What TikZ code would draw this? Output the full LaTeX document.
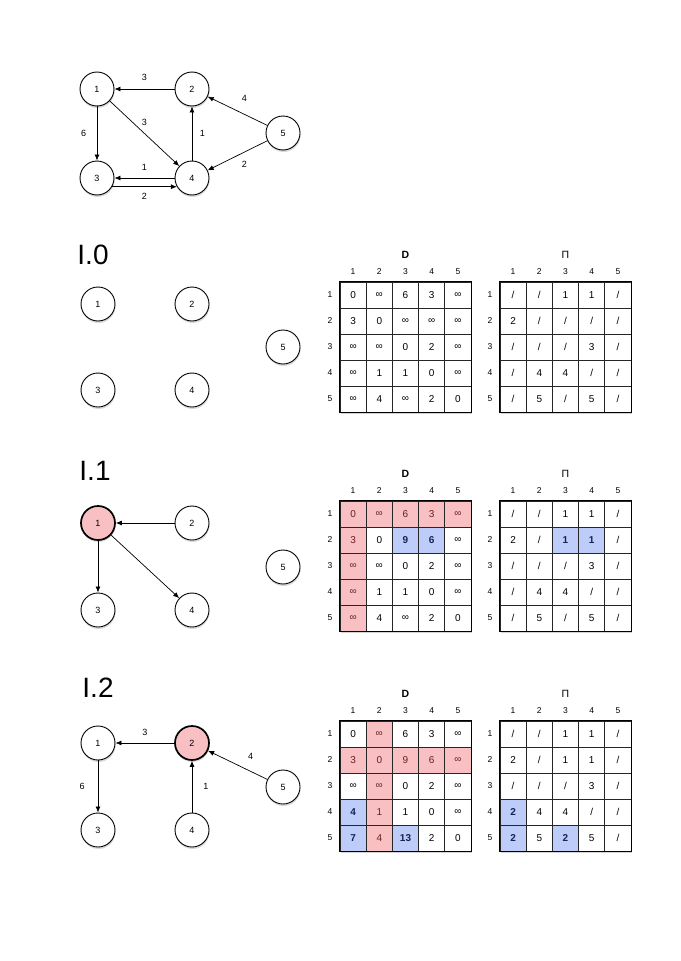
\documentclass[tikz,border=0pt]{standalone}
\usepackage{fontspec}
\setmainfont{Liberation Sans}
\usepackage{tikz}
\usetikzlibrary{positioning,arrows.meta,calc,shadows}
\definecolor{VisitPink}{RGB}{248,192,194}
\definecolor{UpdateBlue}{RGB}{190,204,250}
\definecolor{PinkInk}{RGB}{105,30,30}
\definecolor{BlueInk}{RGB}{20,35,85}

\tikzset{
  vertex/.style={circle,draw,line width=0.9pt,fill=white,minimum size=34pt,inner sep=0pt,
    font=\fontsize{9}{10}\selectfont,drop shadow={shadow xshift=0.5pt,shadow yshift=-2pt,opacity=0.3}},
  visited/.style={vertex,fill=VisitPink,line width=1.7pt},
  link/.style={-{Latex[length=6pt,width=5pt]},line width=0.7pt},
  costlabel/.style={font=\fontsize{9}{10}\selectfont,inner sep=1pt},
  cellbox/.style={draw=black!85,line width=0.7pt,minimum width=26.2pt,minimum height=26pt,
    inner sep=0pt,font=\fontsize{10}{11}\selectfont},
  headlabel/.style={font=\fontsize{8.5}{9}\selectfont,inner sep=0pt},
  gridtitle/.style={font=\fontsize{10.5}{12}\selectfont,inner sep=0pt},
  gridframe/.style={draw,line width=1.3pt},
  steptitle/.style={font=\fontsize{28}{30}\selectfont,inner sep=0pt}
}

% text of shaded cells
\newcommand{\pk}[1]{\textcolor{PinkInk}{#1}}
\newcommand{\bl}[1]{\textcolor{BlueInk}{\bfseries #1}}
% colour, column, row, width, height (in cells)
\newcommand{\shadecell}[5]{\fill[#1] (\gx+#2*26.2-26.2,\gy+#3*26-26) rectangle ++(#4*26.2,#5*26);}
% name, title, x, y, shading, rows
\newcommand{\cellgrid}[6]{%
  \def\gx{#3}\def\gy{#4}
  \fill[white,drop shadow={shadow xshift=1pt,shadow yshift=-2pt,opacity=0.35}] (#3,#4) rectangle ++(131,130);
  #5
  \foreach \rowvals [count=\ri] in {#6} {
    \node[headlabel] (#1-r\ri) at (#3-10,#4+\ri*26-13) {\ri};
    \foreach \val [count=\ci] in \rowvals
      \node[cellbox] (#1-\ri-\ci) at (#3+\ci*26.2-13.1,#4+\ri*26-13) {\val};
  }
  \foreach \ci in {1,...,5}
    \node[headlabel] (#1-c\ci) at (#3+\ci*26.2-13.1,#4-10) {\ci};
  \node[gridtitle] (#1-title) at (#3+65.5,#4-27) {#2};
  \draw[gridframe] (#1-1-1.north west) rectangle (#1-5-5.south east);
}

\begin{document}
\begin{tikzpicture}[x=1pt,y=-1pt]
  \useasboundingbox (0,0) rectangle (680,961);

  % the graph
  \node[vertex] (t1) at (97,89) {1};
  \node[vertex] (t2) at (192,89) {2};
  \node[vertex] (t3) at (97,178) {3};
  \node[vertex] (t4) at (192,178) {4};
  \node[vertex] (t5) at (283,133) {5};
  \draw[link] (t2) -- node[costlabel,above=7pt] {3} (t1);
  \draw[link] (t1) -- node[costlabel,above=7pt] {3} (t4);
  \draw[link] (t1) -- node[costlabel,left=9.5pt] {6} (t3);
  \draw[link] (t4) -- node[costlabel,right=6.5pt] {1} (t2);
  \draw[link] (t5) -- node[costlabel,above right=8pt and 3pt] {4} (t2);
  \draw[link] (t5) -- node[costlabel,below right=4pt and 3pt] {2} (t4);
  \draw[link] (t4.west) -- node[costlabel,above=6pt] {1} (t3.east);
  \draw[link] (t3.-30) -- node[costlabel,below=5pt] {2} (t4.-150);

  % I.0
  \node[steptitle] (lvl0) at (93,255) {I.0};
  \node[vertex] (a1) at (98,304) {1};
  \node[vertex] (a2) at (192,304) {2};
  \node[vertex] (a3) at (98,390) {3};
  \node[vertex] (a4) at (192,390) {4};
  \node[vertex] (a5) at (283,347) {5};
  \cellgrid{d0}{\bfseries D}{340}{282}{}{{0,∞,6,3,∞},{3,0,∞,∞,∞},{∞,∞,0,2,∞},{∞,1,1,0,∞},{∞,4,∞,2,0}}
  \cellgrid{p0}{Π}{500}{282}{}{{/,/,1,1,/},{2,/,/,/,/},{/,/,/,3,/},{/,4,4,/,/},{/,5,/,5,/}}

  % I.1
  \node[steptitle] (lvl1) at (95,471) {I.1};
  \node[visited] (b1) at (98,523) {1};
  \node[vertex] (b2) at (192,523) {2};
  \node[vertex] (b3) at (98,610) {3};
  \node[vertex] (b4) at (192,610) {4};
  \node[vertex] (b5) at (283,567) {5};
  \draw[link] (b2) -- (b1);
  \draw[link] (b1) -- (b3);
  \draw[link] (b1) -- (b4);
  \cellgrid{d1}{\bfseries D}{340}{501}{\shadecell{VisitPink}{1}{1}{5}{1}\shadecell{VisitPink}{1}{1}{1}{5}\shadecell{UpdateBlue}{3}{2}{2}{1}}
    {{\pk{0},\pk{∞},\pk{6},\pk{3},\pk{∞}},{\pk{3},0,\bl{9},\bl{6},∞},{\pk{∞},∞,0,2,∞},{\pk{∞},1,1,0,∞},{\pk{∞},4,∞,2,0}}
  \cellgrid{p1}{Π}{500}{501}{\shadecell{UpdateBlue}{3}{2}{2}{1}}
    {{/,/,1,1,/},{2,/,\bl{1},\bl{1},/},{/,/,/,3,/},{/,4,4,/,/},{/,5,/,5,/}}

  % I.2
  \node[steptitle] (lvl2) at (98,688) {I.2};
  \node[vertex] (c1) at (98,743) {1};
  \node[visited] (c2) at (192,743) {2};
  \node[vertex] (c3) at (98,830) {3};
  \node[vertex] (c4) at (192,830) {4};
  \node[vertex] (c5) at (283,787) {5};
  \draw[link] (c2) -- node[costlabel,above=6pt] {3} (c1);
  \draw[link] (c1) -- node[costlabel,left=12pt] {6} (c3);
  \draw[link] (c4) -- node[costlabel,right=10pt] {1} (c2);
  \draw[link] (c5) -- node[costlabel,above right=4pt and 9pt] {4} (c2);
  \cellgrid{d2}{\bfseries D}{340}{721}{\shadecell{VisitPink}{1}{2}{5}{1}\shadecell{VisitPink}{2}{1}{1}{5}\shadecell{UpdateBlue}{1}{4}{1}{2}\shadecell{UpdateBlue}{3}{5}{1}{1}}
    {{0,\pk{∞},6,3,∞},{\pk{3},\pk{0},\pk{9},\pk{6},\pk{∞}},{∞,\pk{∞},0,2,∞},{\bl{4},\pk{1},1,0,∞},{\bl{7},\pk{4},\bl{13},2,0}}
  \cellgrid{p2}{Π}{500}{721}{\shadecell{UpdateBlue}{1}{4}{1}{2}\shadecell{UpdateBlue}{3}{5}{1}{1}}
    {{/,/,1,1,/},{2,/,1,1,/},{/,/,/,3,/},{\bl{2},4,4,/,/},{\bl{2},5,\bl{2},5,/}}
\end{tikzpicture}
\end{document}
